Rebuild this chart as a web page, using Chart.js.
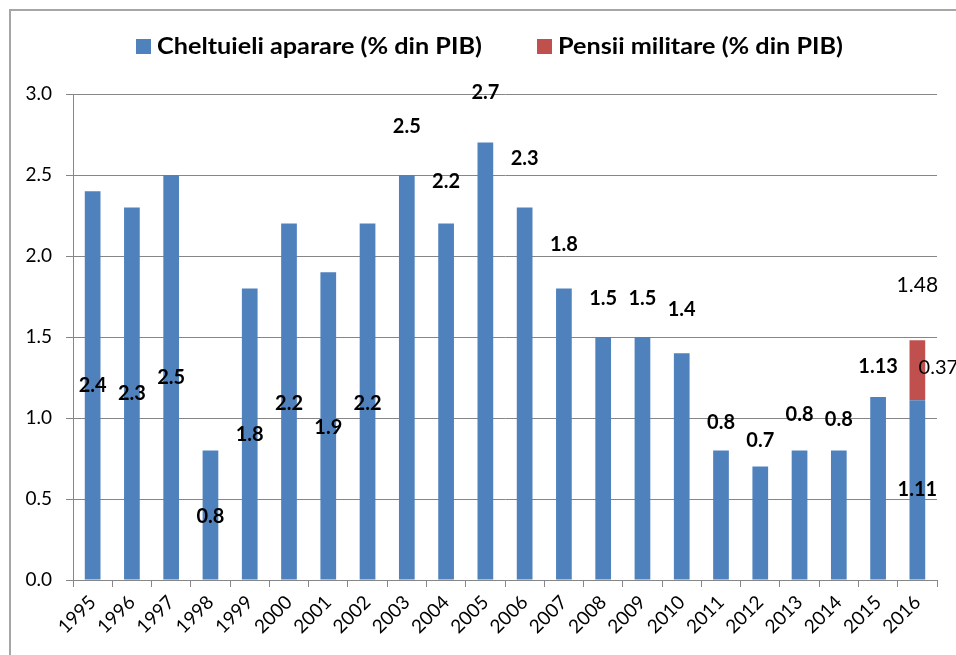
<!DOCTYPE html>
<html>
<head>
<meta charset="utf-8">
<script src="https://cdn.jsdelivr.net/npm/chart.js@4.4.1/dist/chart.umd.min.js"></script>
<style>
  html, body { margin: 0; padding: 0; background: #fff; }
  #wrap { position: relative; width: 956px; height: 655px; overflow: hidden; }
  #frame { position: absolute; left: 9px; top: 9px; width: 1000px; height: 700px;
           border-left: 2px solid #a6a6a6; border-top: 2px solid #a6a6a6; }
  canvas { position: absolute; left: 0; top: 0; }
</style>
</head>
<body>
<div id="wrap">
  <div id="frame"></div>
  <canvas id="chart" width="956" height="655"></canvas>
</div>
<script>
const years = ['1995','1996','1997','1998','1999','2000','2001','2002','2003','2004','2005',
               '2006','2007','2008','2009','2010','2011','2012','2013','2014','2015','2016'];
const defenceSpending = [2.4, 2.3, 2.5, 0.8, 1.8, 2.2, 1.9, 2.2, 2.5, 2.2, 2.7,
                         2.3, 1.8, 1.5, 1.5, 1.4, 0.8, 0.7, 0.8, 0.8, 1.13, 1.11];
const militaryPensions = [null, null, null, null, null, null, null, null, null, null, null,
                          null, null, null, null, null, null, null, null, null, null, 0.37];
const yTicks = [0, 0.5, 1, 1.5, 2, 2.5, 3];

// where the (hand moved) value labels sit, in axis units
const labelLevel = [1.20, 1.15, 1.25, 0.39, 0.90, 1.09, 0.94, 1.09, 2.80, 2.46, 3.01,
                    2.60, 2.07, 1.74, 1.74, 1.67, 0.975, 0.86, 1.02, 0.99, 1.32, 0.556];
const pensionLabelLevel = 1.31;
const totalLabelLevel = 1.82;

const BLUE = '#4F81BD';
const RED = '#C0504D';
const GRID = '#868686';
const FONT = 'Lato, "Open Sans", sans-serif';

const valueLabels = {
  id: 'valueLabels',
  afterDatasetsDraw(chart) {
    const ctx = chart.ctx;
    const y = chart.scales.y;
    const blue = chart.getDatasetMeta(0).data;
    const red = chart.getDatasetMeta(1).data;
    ctx.save();
    ctx.fillStyle = '#000';
    ctx.textAlign = 'center';
    ctx.textBaseline = 'middle';
    ctx.font = 'bold 20px ' + FONT;
    defenceSpending.forEach((v, i) => {
      ctx.fillText(String(v), blue[i].x, y.getPixelForValue(labelLevel[i]));
    });
    ctx.font = '20px ' + FONT;
    militaryPensions.forEach((v, i) => {
      if (v == null) return;
      ctx.fillText(v.toFixed(2), red[i].x + 21, y.getPixelForValue(pensionLabelLevel));
      ctx.font = '21px ' + FONT;
      const total = (defenceSpending[i] + v).toFixed(2);
      ctx.fillText(total, red[i].x, y.getPixelForValue(totalLabelLevel));
    });
    ctx.restore();
  }
};

const drawLegend = {
  id: 'drawLegend',
  afterDraw(chart) {
    const ctx = chart.ctx;
    const items = [
      { x: 136, w: 325, ds: chart.data.datasets[0] },
      { x: 537, w: 285, ds: chart.data.datasets[1] }
    ];
    ctx.save();
    ctx.font = 'bold 22px ' + FONT;
    ctx.textBaseline = 'middle';
    items.forEach(it => {
      ctx.fillStyle = it.ds.backgroundColor;
      ctx.fillRect(it.x, 39, 15, 15);
      ctx.fillStyle = '#000';
      const tw = ctx.measureText(it.ds.label).width;
      ctx.save();
      ctx.translate(it.x + 21, 47);
      ctx.scale(it.w / tw, 1);
      ctx.fillText(it.ds.label, 0, 0);
      ctx.restore();
    });
    ctx.restore();
  }
};

new Chart(document.getElementById('chart'), {
  type: 'bar',
  data: {
    labels: years,
    datasets: [
      { label: 'Cheltuieli aparare (% din PIB)', data: defenceSpending, backgroundColor: BLUE,
        categoryPercentage: 1, barPercentage: 0.4 },
      { label: 'Pensii militare (% din PIB)', data: militaryPensions, backgroundColor: RED,
        categoryPercentage: 1, barPercentage: 0.4 }
    ]
  },
  options: {
    responsive: false,
    animation: false,
    layout: { padding: { top: 94, right: 19, left: 0, bottom: 0 } },
    plugins: { legend: { display: false }, tooltip: { enabled: false } },
    scales: {
      x: {
        stacked: true,
        afterFit(s) { s.height = 75; },
        grid: { offset: true, drawOnChartArea: false, drawTicks: true, tickLength: 7, color: GRID },
        border: { color: GRID, width: 1 },
        ticks: { color: '#000', font: { family: FONT, size: 19 }, minRotation: 45, maxRotation: 45,
                 padding: 4, autoSkip: false }
      },
      y: {
        stacked: true,
        min: 0, max: 3,
        afterFit(s) { s.width = 73; },
        afterBuildTicks(s) { s.ticks = yTicks.map(v => ({ value: v })); },
        grid: { color: GRID, tickLength: 7 },
        border: { color: GRID, width: 1 },
        ticks: { color: '#000', font: { family: FONT, size: 19 }, padding: 14,
                 callback: v => Number(v).toFixed(1) }
      }
    }
  },
  plugins: [valueLabels, drawLegend]
});
</script>
</body>
</html>
